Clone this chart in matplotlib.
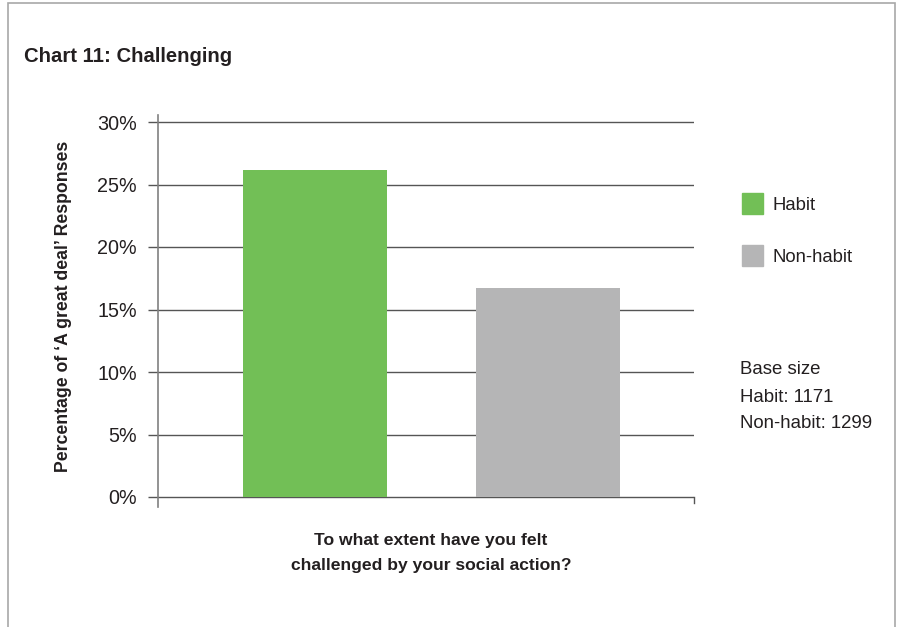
import matplotlib
matplotlib.use("Agg")
from matplotlib import pyplot as plt
from matplotlib.patches import Rectangle
from matplotlib.lines import Line2D

plt.rcParams['font.family'] = ['Liberation Sans', 'DejaVu Sans']

# data
groups = ['Habit', 'Non-habit']
values = [26.2, 16.7]
colors = ['#72bf56', '#b5b5b6']
y_ticks = [0, 5, 10, 15, 20, 25, 30]
base_sizes = [1171, 1299]

title = 'Chart 11: Challenging'
y_label = "Percentage of \u2018A great deal\u2019 Responses"
x_label = 'To what extent have you felt\nchallenged by your social action?'

TEXT = '#231f20'
W, H = 903, 627

fig = plt.figure(figsize=(W / 100, H / 100), dpi=100)

# outer frame of the page
fig.patches.append(Rectangle((8 / W, -0.05), (895 - 8) / W, (H - 3) / H + 0.05,
                             transform=fig.transFigure, fill=False,
                             edgecolor='#a8a8a8', lw=1.2))

# axes: left spine 158..694 px, y from 115 (top) to 507 (bottom)
ax = fig.add_axes([158 / W, (H - 507) / H, (694 - 158) / W, (507 - 115) / H])
x = list(range(len(groups)))
ax.bar(x, values, width=0.618, color=colors, zorder=3)
ax.set_xlim(-0.674, 1.627)
ax.set_ylim(-0.8, 30.56)

ax.set_yticks(y_ticks)
ax.set_yticklabels([f'{t}%' for t in y_ticks])
ax.set_xticks([])
ax.tick_params(axis='y', length=7.2, width=1, color='#555555', pad=8,
               labelsize=14.2, labelcolor=TEXT)
ax.grid(axis='y', color='#555555', lw=1, zorder=1)
for s in ['top', 'right', 'bottom']:
    ax.spines[s].set_visible(False)
ax.spines['left'].set_color('#808080')
ax.spines['left'].set_linewidth(1.2)

# little tick at right end of the zero line
ax.add_line(Line2D([1, 1], [0, -0.5], transform=ax.get_yaxis_transform(),
                   color='#555555', lw=1, clip_on=False))

fig.text(24 / W, 1 - 57 / H, title, fontsize=14.6, fontweight='bold',
         color=TEXT, va='center', ha='left')
fig.text(64 / W, 1 - 306 / H, y_label, rotation=90, fontsize=12.7,
         fontweight='bold', color=TEXT, va='center', ha='center')
fig.text(431 / W, 1 - 553 / H, x_label, fontsize=12.6, fontweight='bold',
         color=TEXT, va='center', ha='center', linespacing=1.8)

# legend
for i, (g, c) in enumerate(zip(groups, colors)):
    yc = 204 + i * 51
    fig.patches.append(Rectangle((742 / W, 1 - (yc + 10.5) / H), 21 / W, 21 / H,
                                 transform=fig.transFigure, color=c))
    fig.text(773 / W, 1 - (yc + 2) / H, g, fontsize=13.3, color=TEXT,
             va='center')

base_lines = ['Base size'] + [f'{g}: {n}' for g, n in zip(groups, base_sizes)]
for i, t in enumerate(base_lines):
    fig.text(740 / W, 1 - (370 + 27 * i) / H, t, fontsize=13.4, color=TEXT,
             va='center')

fig.savefig('out.png', dpi=100)
